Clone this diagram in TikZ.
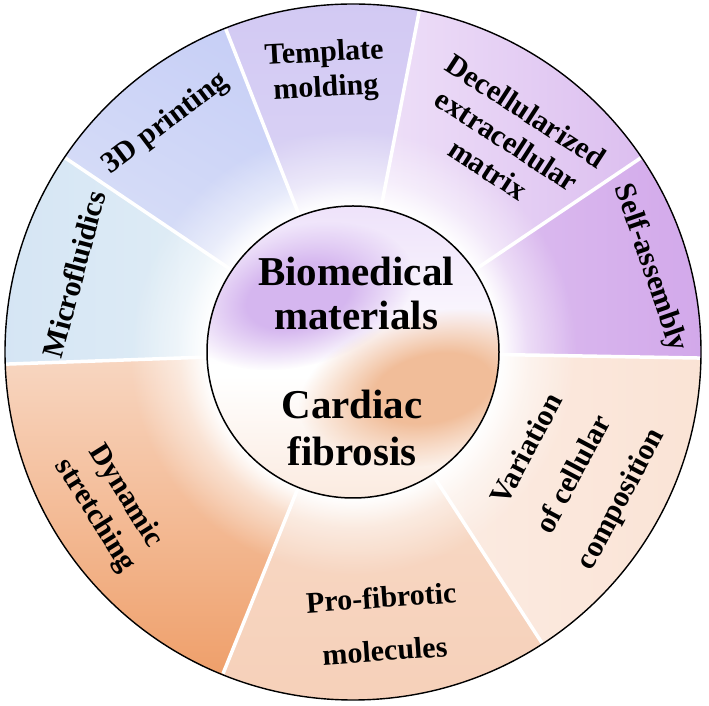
\documentclass[tikz,border=0pt]{standalone}
\usepackage{fontspec}
\setmainfont{Liberation Serif}
\usetikzlibrary{fadings,calc}
\pgfdeclareradialshading{halosh}{\pgfpointorigin}{color(0bp)=(white); color(10.5bp)=(white); color(12.5bp)=(gray); color(16bp)=(black); color(50bp)=(black)}
\pgfdeclarefading{halo}{\pgfuseshading{halosh}}
\pgfdeclareradialshading{softsh}{\pgfpointorigin}{color(0bp)=(white); color(11bp)=(white); color(25bp)=(black); color(50bp)=(black)}
\pgfdeclarefading{softblob}{\pgfuseshading{softsh}}
\definecolor{micA}{HTML}{D5E5F4}
\definecolor{micB}{HTML}{E6F2F7}
\definecolor{prA}{HTML}{C5CDF6}
\definecolor{prB}{HTML}{DCE2F8}
\definecolor{tmA}{HTML}{D2C9F3}
\definecolor{tmB}{HTML}{E0DAF6}
\definecolor{dcA}{HTML}{F0E3F9}
\definecolor{dcB}{HTML}{DBBDEF}
\definecolor{saA}{HTML}{E2CAF3}
\definecolor{saB}{HTML}{D2A8EA}
\definecolor{vaA}{HTML}{FCEEE6}
\definecolor{vaB}{HTML}{FAE3D5}
\definecolor{pfA}{HTML}{F8DDCB}
\definecolor{pfB}{HTML}{F6D0B9}
\definecolor{dyA}{HTML}{F8D8C4}
\definecolor{dyB}{HTML}{EE9A62}
\definecolor{lavtop}{HTML}{EEE2FA}
\definecolor{blobP}{HTML}{D5B6EF}
\definecolor{blobO}{HTML}{F1BD99}
\definecolor{peachlow}{HTML}{FBEADF}
\newcommand{\mysector}[2]{(353,354) -- ++(#1:348pt) arc[start angle=#1, end angle=#2, radius=348pt] -- cycle}
\newcommand{\lblfont}{\bfseries\fontsize{30}{35}\selectfont}
\begin{document}
\begin{tikzpicture}[x=1pt,y=1pt,
  sep/.style={white, line width=3.5pt},
  lbl/.style={align=center, font=\lblfont, text=black, inner sep=0pt},
  core/.style={align=center, inner sep=0pt, text=black}]
\useasboundingbox (0,0) rectangle (709,706);
\coordinate (C) at (353,354);
% ---- sectors
\begin{scope}\clip \mysector{146}{182};
\shade[left color=micA, right color=micB] (0,330) rectangle (356,560);\end{scope}
\begin{scope}\clip \mysector{111.5}{146};
\shade[top color=prA, bottom color=prB, shading angle=-30] (50,350) rectangle (356,706);\end{scope}
\begin{scope}\clip \mysector{79}{111.5};
\shade[top color=tmA, bottom color=tmB] (215,350) rectangle (425,706);\end{scope}
\begin{scope}\clip \mysector{34}{79};
\shade[left color=dcA, right color=dcB] (350,350) rectangle (655,706);\end{scope}
\begin{scope}\clip \mysector{-1}{34};
\shade[left color=saA, right color=saB] (350,345) rectangle (706,560);\end{scope}
\begin{scope}\clip \mysector{-57}{-1};
\shade[left color=vaA, right color=vaB] (350,50) rectangle (706,362);\end{scope}
\begin{scope}\clip \mysector{-112}{-57};
\shade[top color=pfA, bottom color=pfB] (215,0) rectangle (550,360);\end{scope}
\begin{scope}\clip \mysector{182}{248};
\shade[top color=dyA, bottom color=dyB] (0,0) rectangle (360,360);\end{scope}
% ---- white halo
\fill[white, path fading=halo] (C) circle (348pt);
% ---- separators
\foreach \a in {182,146,111.5,79,34,-1,-57,-112}
  \draw[sep] ($(C)+(\a:146pt)$) -- ($(C)+(\a:347pt)$);
% ---- inner circle
\begin{scope}
\clip (C) circle (146pt);
\fill[white] (C) circle (146pt);
\shade[top color=lavtop, bottom color=white] (200,340) rectangle (510,502);
\shade[top color=white, bottom color=peachlow] (200,205) rectangle (510,330);
\begin{scope}[transform canvas={rotate around={15:(298,410)}}]
\fill[blobP, path fading=softblob] (298,410) ellipse (118pt and 70pt);
\end{scope}
\begin{scope}[transform canvas={rotate around={12:(432,318)}}]
\fill[blobO, path fading=softblob] (432,318) ellipse (135pt and 76pt);
\end{scope}
\end{scope}
\draw[line width=1.5pt] (C) circle (146pt);
\draw[line width=1.4pt] (C) circle (348pt);
% ---- labels
\node[lbl, rotate=75] (micro) at (74,432) {Microfluidics};
\node[lbl, rotate=37] (print) at (166,582) {3D printing};
\node[lbl, rotate=3] (templ) at (325,634) {Template\\molding};
\node[lbl, rotate=-33] (decell) at (507,566) {Decellularized\\extracellular\\matrix};
\node[lbl, rotate=-71] (selfa) at (650,438) {Self-assembly};
\node[lbl, rotate=62, font=\bfseries\fontsize{30}{53}\selectfont] (vari) at (575,231) {Variation\\of cellular\\composition};
\node[lbl, rotate=4, font=\bfseries\fontsize{30}{53}\selectfont] (profib) at (383,82) {Pro-fibrotic\\molecules};
\node[lbl, rotate=-58, font=\bfseries\fontsize{30}{36}\selectfont] (dyn) at (110,200) {Dynamic\\stretching};
\node[core, font=\bfseries\fontsize{41}{44}\selectfont] (bio) at (356,413) {Biomedical\\materials};
\node[core, font=\bfseries\fontsize{41}{47}\selectfont] (card) at (352,278) {Cardiac\\fibrosis};
\end{tikzpicture}
\end{document}
